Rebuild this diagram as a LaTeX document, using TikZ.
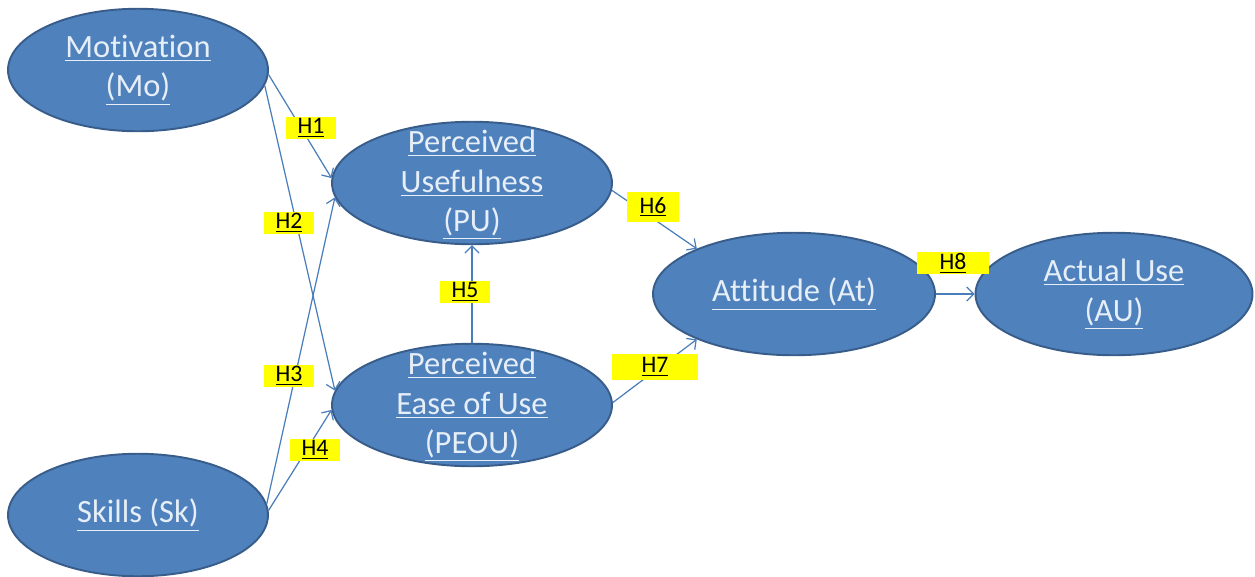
\documentclass[tikz,border=0pt]{standalone}
\usepackage{fontspec}
\setmainfont{Carlito}[Ligatures=NoCommon]
\usetikzlibrary{shapes.geometric,arrows.meta}
\definecolor{ovalblue}{HTML}{4F81BD}
\definecolor{ovalline}{HTML}{385D8A}
\definecolor{linkblue}{HTML}{4A7EBB}
\definecolor{ovaltext}{HTML}{E6EEF7}
\definecolor{hypyellow}{HTML}{FFFF00}
\newcommand{\uln}[1]{$\underline{\hbox{#1}}$}

\begin{document}
\begin{tikzpicture}[x=0.02cm, y=0.02cm,
    oval/.style={ellipse, draw=ovalline, line width=1.1pt, fill=ovalblue, inner sep=0pt, minimum height=2.45cm, minimum width=#1},
    ovaltxt/.style={text=ovaltext, align=center, inner sep=0pt, font=\fontsize{18.5}{22.5}\selectfont},
    hyp/.style={fill=hypyellow, inner sep=0pt, minimum width=28.5pt, minimum height=13pt, font=\fontsize{13.5}{15}\selectfont},
    link/.style={draw=linkblue, line width=0.7pt, -{Straight Barb[length=4pt, width=8pt]}}]
    \useasboundingbox (0,0) rectangle (1255,-576);

    % constructs
    \node[oval=5.2cm]  (mo)   at (138,-70)  {};
    \node[oval=5.2cm]  (sk)   at (138,-515) {};
    \node[oval=5.6cm]  (pu)   at (472,-183) {};
    \node[oval=5.6cm]  (peou) at (472,-405) {};
    \node[oval=5.64cm] (at)   at (794,-294) {};
    \node[oval=5.54cm] (au)   at (1114,-294) {};

    \node[ovaltxt] (motxt)   at (mo)   {\uln{Motivation}\\\uln{(Mo)}};
    \node[ovaltxt] (sktxt)   at (sk)   {\uln{Skills (Sk)}};
    \node[ovaltxt] (putxt)   at (472,-185) {\uln{Perceived}\\\uln{Usefulness}\\\uln{(PU)}};
    \node[ovaltxt] (peoutxt) at (472,-407) {\uln{Perceived}\\\uln{Ease of Use}\\\uln{(PEOU)}};
    \node[ovaltxt] (attxt)   at (at)   {\uln{Attitude (At)}};
    \node[ovaltxt] (autxt)   at (au)   {\uln{Actual Use}\\\uln{(AU)}};

    % hypotheses
    \draw[link] (mo.-2) -- (pu.178);
    \draw[link] (mo.-7) -- (peou.174);
    \draw[link] (sk.5) -- (pu.186);
    \draw[link] (sk.2) -- (peou.182);
    \draw[link] (peou.north) -- (pu.south);
    \draw[link] (pu.-3) -- (at.155);
    \draw[link] (peou.1) -- (at.205);
    \draw[link] (at.east) -- (au.west);

    \node[hyp] (h1) at (311,-128) {\uln{H1}};
    \node[hyp] (h2) at (289,-223) {\uln{H2}};
    \node[hyp] (h3) at (289,-376) {\uln{H3}};
    \node[hyp] (h4) at (315,-450) {\uln{H4}};
    \node[hyp] (h5) at (465,-292) {\uln{H5}};
    \node[hyp, minimum width=30pt, minimum height=17pt] (h6) at (653,-207) {\uln{H6}};
    \node[hyp, minimum width=48.8pt, minimum height=15pt] (h7) at (655,-367) {\uln{H7}};
    \node[hyp, minimum width=41.4pt] (h8) at (953,-263) {\uln{H8}};
\end{tikzpicture}
\end{document}
